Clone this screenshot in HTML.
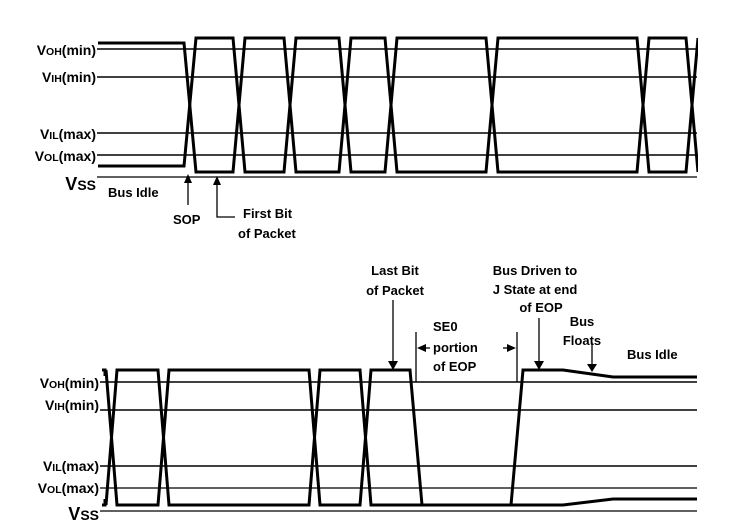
<!DOCTYPE html>
<html><head><meta charset="utf-8"><style>
html,body{margin:0;padding:0;background:#fff;}
svg{display:block;}
text{font-family:"Liberation Sans",Arial,sans-serif;font-weight:bold;fill:#000;}
</style></head><body>
<svg width="731" height="532" viewBox="0 0 731 532" xmlns="http://www.w3.org/2000/svg">
<rect width="731" height="532" fill="#fff"/>
<!-- TOP reference lines -->
<g stroke="#000" stroke-width="1.6">
<line x1="97" y1="49" x2="697" y2="49"/>
<line x1="97" y1="77" x2="697" y2="77"/>
<line x1="97" y1="133" x2="697" y2="133"/>
<line x1="97" y1="155" x2="697" y2="155"/>
<line x1="97" y1="177" x2="697" y2="177" stroke-width="1.2"/>
</g>
<!-- TOP labels -->
<g font-size="14" text-anchor="end">
<text x="96" y="55">V<tspan font-size="10.5">OH</tspan>(min)</text>
<text x="96" y="82">V<tspan font-size="10.5">IH</tspan>(min)</text>
<text x="96" y="139">V<tspan font-size="10.5">IL</tspan>(max)</text>
<text x="96" y="161">V<tspan font-size="10.5">OL</tspan>(max)</text>
<text x="96" y="190" font-size="18">V<tspan font-size="14">SS</tspan></text>
</g>
<!-- TOP waveform -->
<g stroke="#000" stroke-width="3" fill="none" stroke-linejoin="miter">
<polyline points="98,43 184,43 196,172 233,172 245,38 284,38 296,172 339,172 351,38 385,38 397,172 486,172 498,38 637,38 649,172 686,172 698,38"/>
<polyline points="98,166 184,166 196,38 233,38 245,172 284,172 296,38 339,38 351,172 385,172 397,38 486,38 498,172 637,172 649,38 686,38 698,172"/>
</g>
<rect x="698" y="20" width="33" height="170" fill="#fff"/>
<!-- top annotations -->
<g stroke="#000" stroke-width="1.3" fill="none">
<line x1="188" y1="182" x2="188" y2="205"/>
<polyline points="217,184 217,217 235,217"/>
</g>
<polygon points="188,174 184,183 192,183" fill="#000"/>
<polygon points="217,176 213,185 221,185" fill="#000"/>
<g font-size="13">
<text x="108" y="197">Bus Idle</text>
<text x="173" y="224">SOP</text>
<text x="243" y="218">First Bit</text>
<text x="238" y="238">of Packet</text>
</g>

<!-- BOTTOM reference lines -->
<g stroke="#000" stroke-width="1.6">
<line x1="100" y1="382" x2="697" y2="382"/>
<line x1="100" y1="410" x2="697" y2="410"/>
<line x1="100" y1="466" x2="697" y2="466"/>
<line x1="100" y1="488" x2="697" y2="488" stroke-width="1.2"/>
<line x1="100" y1="511" x2="697" y2="511" stroke-width="1.2"/>
</g>
<g font-size="14" text-anchor="end">
<text x="99" y="388">V<tspan font-size="10.5">OH</tspan>(min)</text>
<text x="99" y="410">V<tspan font-size="10.5">IH</tspan>(min)</text>
<text x="99" y="471">V<tspan font-size="10.5">IL</tspan>(max)</text>
<text x="99" y="493">V<tspan font-size="10.5">OL</tspan>(max)</text>
<text x="99" y="520" font-size="18">V<tspan font-size="14">SS</tspan></text>
</g>
<!-- BOTTOM waveform -->
<g stroke="#000" stroke-width="3" fill="none">
<polyline points="102,370 105,370 105,376"/>
<polyline points="102,505 105,505 105,499"/>
<polyline points="106,370 117,505 158,505 169,370 309,370 320,505 360,505 371,370 410,370 422,505 511,505 523,370 563,370 613,377 697,377"/>
<polyline points="106,505 117,370 158,370 169,505 309,505 320,370 360,370 371,505 563,505 613,499 697,499"/>
</g>
<!-- bottom annotations -->
<g stroke="#000" stroke-width="1.3" fill="none">
<line x1="393" y1="300" x2="393" y2="362"/>
<line x1="416" y1="332" x2="416" y2="382"/>
<line x1="517" y1="332" x2="517" y2="382"/>
<line x1="424" y1="348" x2="430" y2="348"/>
<line x1="503" y1="348" x2="509" y2="348"/>
<line x1="539" y1="318" x2="539" y2="362"/>
<line x1="592" y1="342" x2="592" y2="364"/>
</g>
<g fill="#000">
<polygon points="393,370 388,361 398,361"/>
<polygon points="417,348 426,344 426,352"/>
<polygon points="516,348 507,344 507,352"/>
<polygon points="539,370 534,361 544,361"/>
<polygon points="592,372 587,364 597,364"/>
</g>
<g font-size="13">
<text x="395" y="275" text-anchor="middle">Last Bit</text>
<text x="395" y="295" text-anchor="middle">of Packet</text>
<text x="535" y="275" text-anchor="middle">Bus Driven to</text>
<text x="535" y="294" text-anchor="middle">J State at end</text>
<text x="541" y="312" text-anchor="middle">of EOP</text>
<text x="433" y="331">SE0</text>
<text x="433" y="352">portion</text>
<text x="433" y="371">of EOP</text>
<text x="582" y="326" text-anchor="middle">Bus</text>
<text x="582" y="345" text-anchor="middle">Floats</text>
<text x="627" y="359">Bus Idle</text>
</g>
</svg>
</body></html>
